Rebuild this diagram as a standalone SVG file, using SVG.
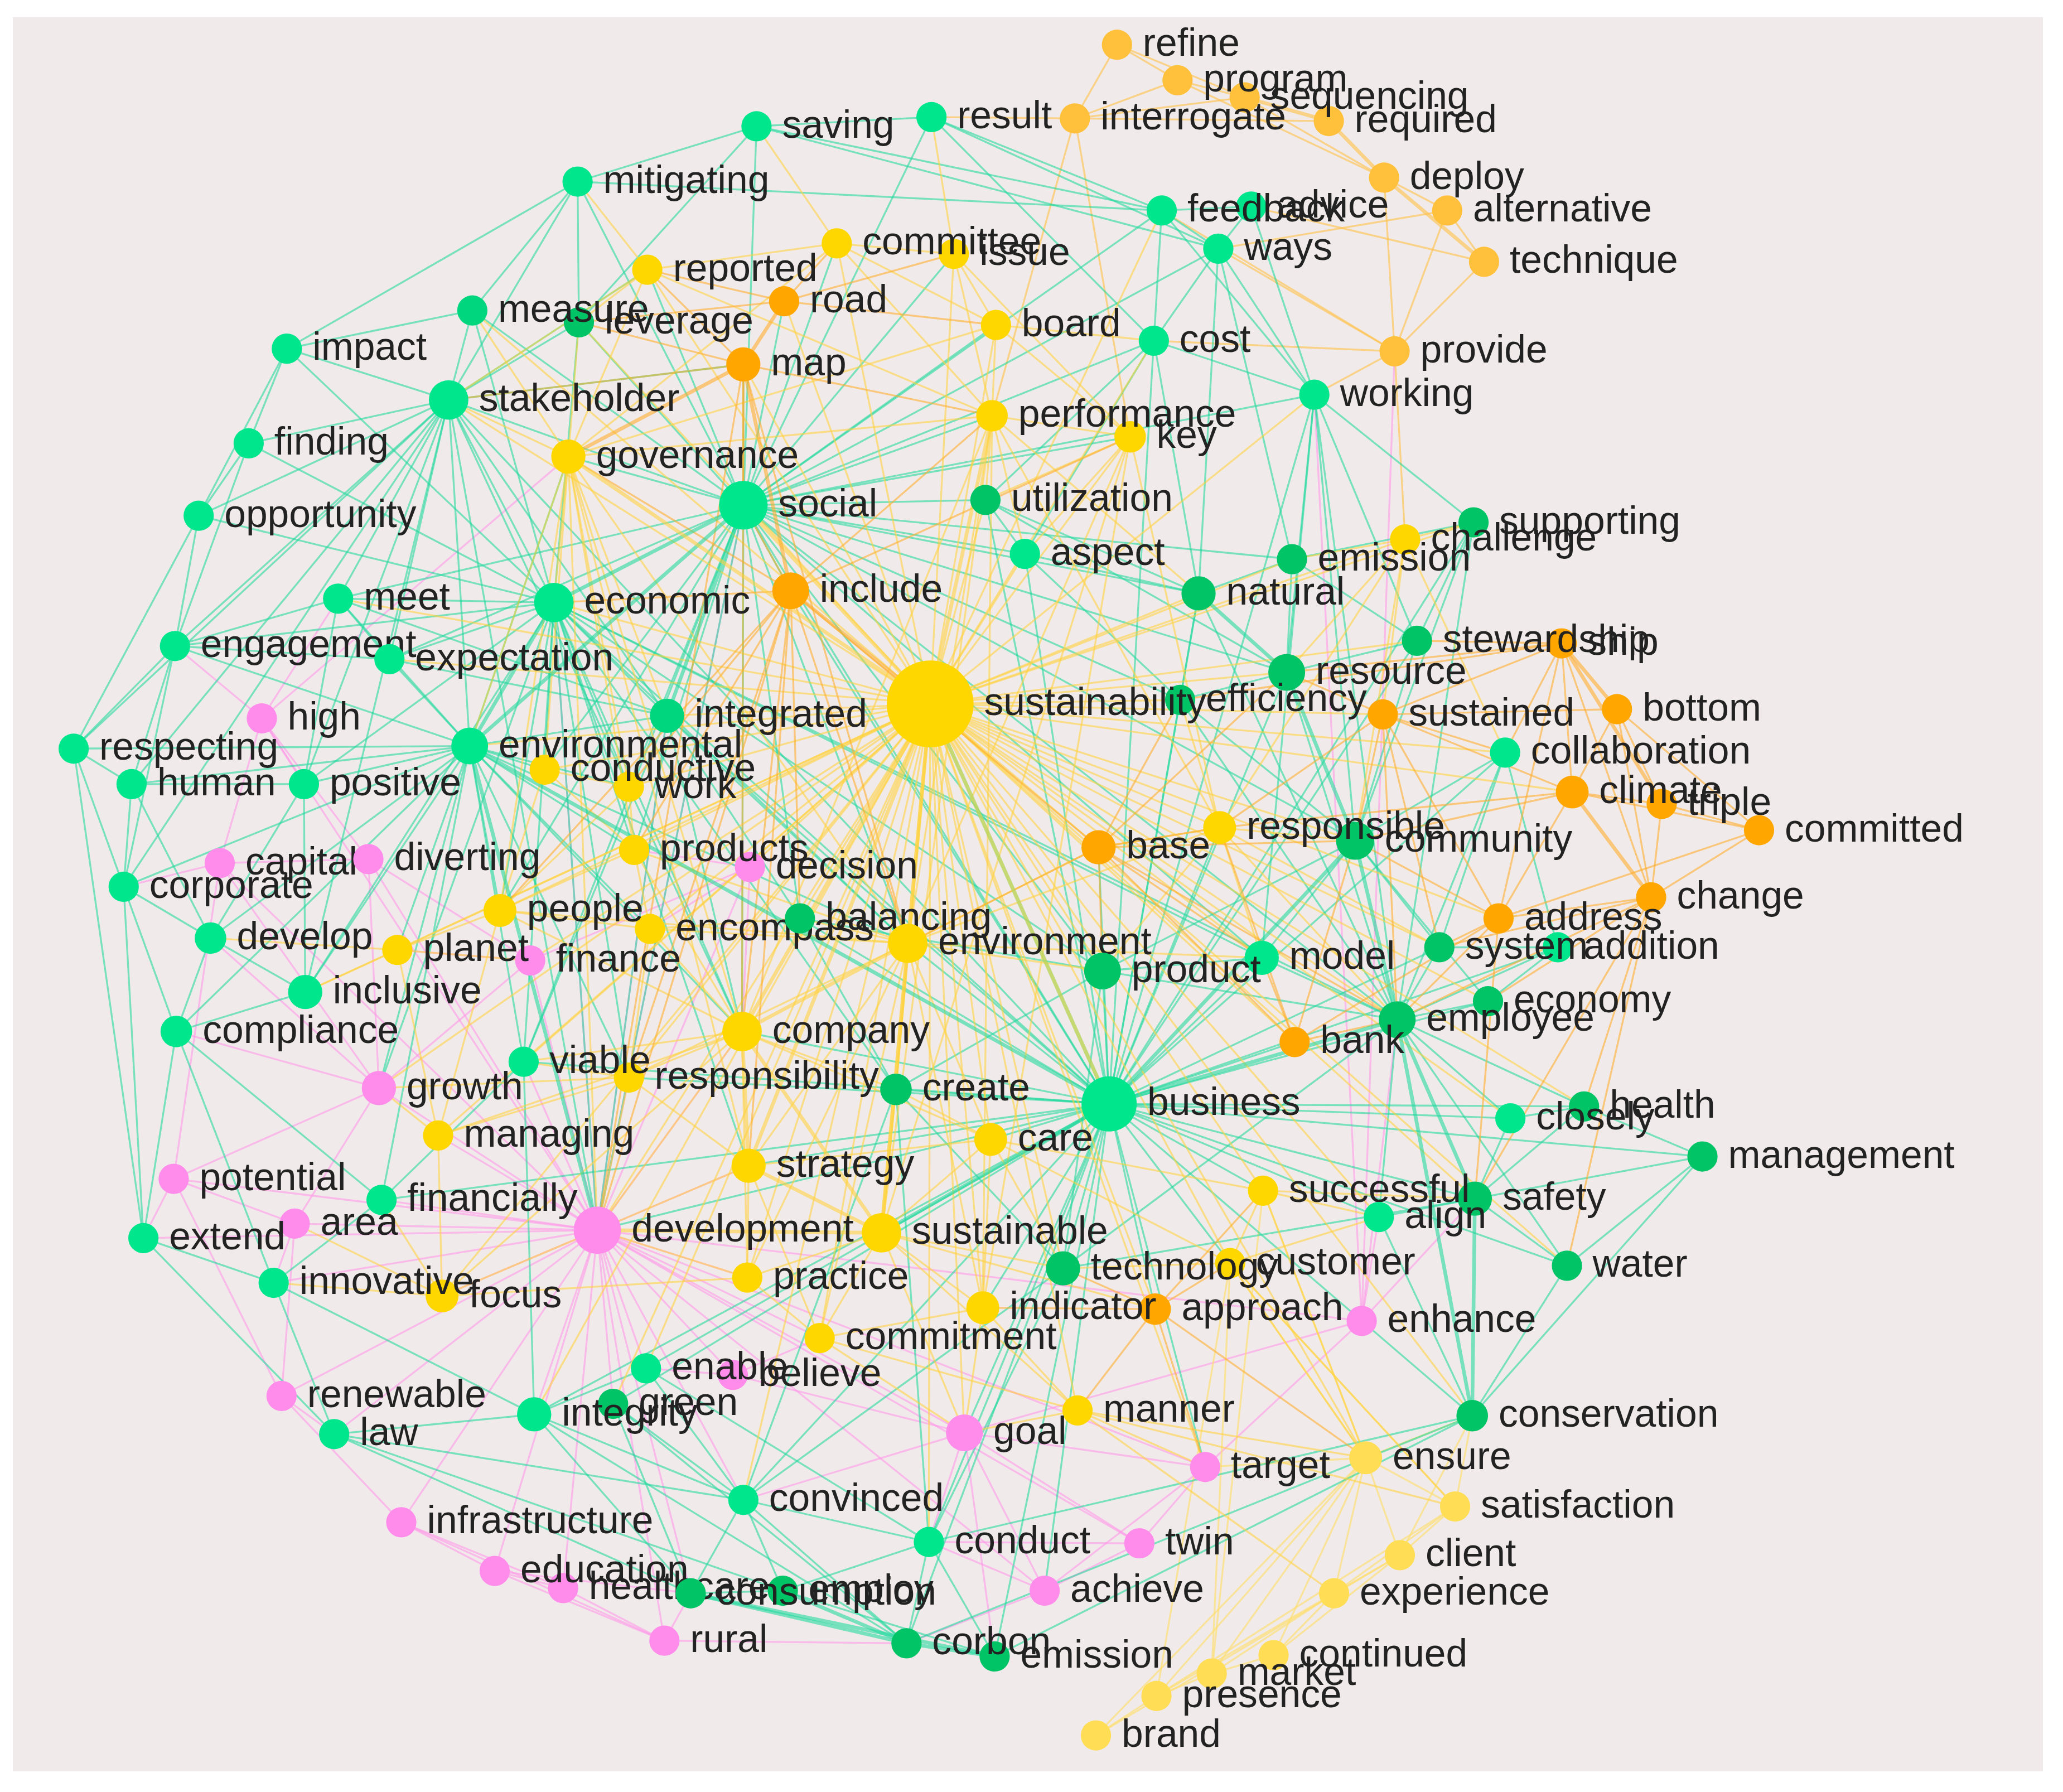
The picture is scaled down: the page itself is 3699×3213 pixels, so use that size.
<svg xmlns="http://www.w3.org/2000/svg" width="3699" height="3213" viewBox="0 0 3699 3213">
<style>
.e path{fill:none;stroke-width:1.4;stroke-linecap:round}
.w path{stroke-width:2.8}
.g path{stroke:#1FD99C;stroke-opacity:.58}
.y path{stroke:#FFD23C;stroke-opacity:.58}
.o path{stroke:#FFAC2A;stroke-opacity:.58}
.p path{stroke:#FF96E8;stroke-opacity:.58}
.ly path{stroke:#FFDE6A;stroke-opacity:.62}
.lo path{stroke:#FFC24A;stroke-opacity:.62}
.Y{fill:#FFD700}.LY{fill:#FFDD55}.O{fill:#FFA700}.LO{fill:#FFC13B}.SG{fill:#00E68C}.DG{fill:#00C466}.MG{fill:#00D67E}.P{fill:#FF8CEB}
text{font-family:"Liberation Sans",Arial,sans-serif;font-size:29.5px;fill:#222222}
</style>
<rect width="3699" height="3213" fill="#FFFFFF"/>
<rect x="23" y="31" width="3640" height="3145" fill="#F0EAEA"/>
<g transform="scale(2.359)">
<g id="connectors">
<g class="e p">
<path d="M454 935L288 827"/><path d="M454 935L224 930"/><path d="M454 935L132 896"/><path d="M454 935L403 730"/><path d="M454 935L167 656"/><path d="M454 935L280 653"/><path d="M454 935L199 546"/><path d="M454 935L570 659"/><path d="M454 935L557 1045"/><path d="M454 935L214 1061"/><path d="M454 935L305 1157"/><path d="M454 935L376 1194"/><path d="M454 935L428 1207"/><path d="M454 935L505 1247"/><path d="M454 935L733 1089"/><path d="M454 935L916 1115"/><path d="M454 935L866 1173"/><path d="M454 935L794 1209"/><path d="M454 935L1035 1004"/><path d="M454 935L406 1075"/><path d="M454 935L254 1090"/><path d="M454 935L491 1040"/><path d="M454 935L466 1067"/><path d="M454 935L208 975"/><path d="M454 935L290 912"/><path d="M454 935L398 807"/><path d="M454 935L109 941"/><path d="M454 935L565 1140"/><path d="M454 935L525 1211"/><path d="M454 935L336 985"/><path d="M454 935L333 863"/><path d="M454 935L564 784"/><path d="M454 935L569 886"/><path d="M454 935L478 819"/><path d="M454 935L568 971"/><path d="M454 935L623 1017"/><path d="M454 935L421 458"/><path d="M454 935L565 384"/><path d="M454 935L507 544"/>
<path d="M199 546L167 656"/><path d="M199 546L280 653"/><path d="M199 546L133 491"/><path d="M199 546L257 455"/><path d="M199 546L231 596"/><path d="M199 546L432 347"/><path d="M167 656L280 653"/><path d="M167 656L94 674"/><path d="M167 656L132 896"/><path d="M167 656L288 827"/><path d="M280 653L288 827"/><path d="M280 653L403 730"/><path d="M570 659L403 730"/><path d="M570 659L564 784"/><path d="M570 659L494 706"/><path d="M403 730L288 827"/><path d="M288 827L132 896"/><path d="M288 827L224 930"/><path d="M132 896L224 930"/><path d="M132 896L214 1061"/><path d="M132 896L109 941"/><path d="M224 930L214 1061"/><path d="M224 930L208 975"/><path d="M214 1061L305 1157"/><path d="M214 1061L254 1090"/><path d="M305 1157L376 1194"/><path d="M305 1157L428 1207"/><path d="M305 1157L505 1247"/><path d="M376 1194L428 1207"/><path d="M376 1194L505 1247"/><path d="M428 1207L505 1247"/><path d="M505 1247L525 1211"/><path d="M505 1247L689 1249"/><path d="M376 1194L525 1211"/><path d="M733 1089L916 1115"/><path d="M733 1089L866 1173"/><path d="M733 1089L794 1209"/><path d="M733 1089L1035 1004"/><path d="M916 1115L1035 1004"/><path d="M916 1115L866 1173"/><path d="M866 1173L794 1209"/><path d="M794 1209L916 1115"/><path d="M1035 1004L1048 925"/><path d="M1035 1004L1062 775"/><path d="M1035 1004L1121 911"/><path d="M557 1045L491 1040"/><path d="M557 1045L733 1089"/><path d="M557 1045L623 1017"/><path d="M733 1089L565 1140"/><path d="M733 1089L706 1172"/><path d="M866 1173L706 1172"/><path d="M794 1209L706 1172"/><path d="M794 1209L689 1249"/><path d="M1035 1004L1060 267"/><path d="M1035 1004L999 300"/><path d="M733 1089L756 1259"/><path d="M288 827L134 784"/><path d="M288 827L160 713"/><path d="M403 730L302 722"/><path d="M570 659L482 646"/>
</g>
<g class="e lo">
<path d="M849 34L895 61"/><path d="M849 34L817 90"/><path d="M849 34L946 74"/><path d="M895 61L946 74"/><path d="M895 61L817 90"/><path d="M817 90L946 74"/><path d="M817 90L1010 92"/><path d="M946 74L1052 135"/><path d="M895 61L1052 135"/><path d="M1052 135L1100 160"/><path d="M1100 160L1128 199"/><path d="M1100 160L1060 267"/><path d="M1128 199L1060 267"/><path d="M1052 135L1060 267"/><path d="M951 157L1128 199"/><path d="M1060 267L926 189"/><path d="M1060 267L877 259"/><path d="M817 90L859 332"/><path d="M817 90L754 316"/><path d="M1060 267L1068 410"/><path d="M1060 267L883 160"/><path d="M1060 267L999 300"/><path d="M1100 160L926 189"/><path d="M817 90L708 89"/>
</g>
<g class="e lo w">
<path d="M946 74L1010 92"/><path d="M1010 92L1052 135"/><path d="M1052 135L1128 199"/>
</g>
<g class="e ly">
<path d="M1038 1108L1106 1145"/><path d="M1038 1108L1064 1182"/><path d="M1038 1108L1014 1211"/><path d="M1038 1108L968 1258"/><path d="M1038 1108L921 1272"/><path d="M1038 1108L879 1289"/><path d="M1038 1108L833 1319"/><path d="M1038 1108L916 1115"/><path d="M1038 1108L1119 1076"/><path d="M1038 1108L935 960"/><path d="M1038 1108L960 905"/><path d="M1106 1145L1064 1182"/><path d="M1064 1182L1014 1211"/><path d="M1014 1211L968 1258"/><path d="M968 1258L921 1272"/><path d="M921 1272L879 1289"/><path d="M879 1289L833 1319"/><path d="M1014 1211L921 1272"/><path d="M1106 1145L1014 1211"/><path d="M1064 1182L968 1258"/><path d="M1014 1211L879 1289"/><path d="M1106 1145L935 960"/><path d="M1106 1145L879 1289"/><path d="M1064 1182L833 1319"/><path d="M935 960L879 1289"/><path d="M935 960L921 1272"/><path d="M960 905L921 1272"/><path d="M1106 1145L1119 1076"/><path d="M1064 1182L1119 1076"/>
</g>
<g class="e g">
<path d="M843 839L565 384"/><path d="M843 839L421 458"/><path d="M843 839L959 728"/><path d="M843 839L838 738"/><path d="M843 839L808 964"/><path d="M843 839L681 828"/><path d="M843 839L454 935"/><path d="M843 839L753 866"/><path d="M843 839L564 784"/><path d="M843 839L569 886"/><path d="M843 839L507 544"/><path d="M843 839L733 1089"/><path d="M843 839L565 1140"/><path d="M843 839L706 1172"/><path d="M843 839L491 1040"/><path d="M843 839L406 1075"/><path d="M843 839L398 807"/><path d="M843 839L1148 850"/><path d="M843 839L1121 911"/><path d="M843 839L1048 925"/><path d="M843 839L1191 962"/><path d="M843 839L1119 1076"/><path d="M843 839L978 511"/><path d="M843 839L911 451"/><path d="M843 839L897 532"/><path d="M843 839L1077 487"/><path d="M843 839L1120 397"/><path d="M843 839L999 300"/><path d="M843 839L877 259"/><path d="M843 839L1144 572"/><path d="M843 839L1184 720"/><path d="M843 839L1204 841"/><path d="M843 839L1294 879"/><path d="M843 839L1131 761"/><path d="M843 839L1094 720"/><path d="M843 839L984 792"/><path d="M843 839L927 629"/><path d="M843 839L960 905"/><path d="M843 839L935 960"/><path d="M843 839L878 995"/><path d="M843 839L747 994"/><path d="M843 839L689 1249"/><path d="M843 839L756 1259"/><path d="M843 839L466 1067"/><path d="M843 839L478 819"/><path d="M843 839L608 698"/><path d="M843 839L779 421"/><path d="M843 839L749 380"/><path d="M843 839L601 449"/><path d="M843 839L835 644"/><path d="M843 839L690 717"/><path d="M843 839L916 1115"/><path d="M843 839L794 1209"/><path d="M843 839L290 912"/><path d="M843 839L341 304"/>
<path d="M565 384L341 304"/><path d="M565 384L432 347"/><path d="M565 384L565 277"/><path d="M565 384L596 229"/><path d="M565 384L492 205"/><path d="M565 384L440 245"/><path d="M565 384L359 236"/><path d="M565 384L601 449"/><path d="M565 384L779 421"/><path d="M565 384L749 380"/><path d="M565 384L754 316"/><path d="M565 384L757 247"/><path d="M565 384L877 259"/><path d="M565 384L883 160"/><path d="M565 384L926 189"/><path d="M565 384L708 89"/><path d="M565 384L439 138"/><path d="M565 384L575 96"/><path d="M565 384L978 511"/><path d="M565 384L911 451"/><path d="M565 384L1030 639"/><path d="M565 384L454 935"/><path d="M565 384L564 784"/><path d="M565 384L690 717"/><path d="M565 384L959 728"/><path d="M565 384L1062 775"/><path d="M565 384L478 598"/><path d="M565 384L414 585"/><path d="M565 384L380 692"/><path d="M565 384L257 455"/><path d="M565 384L296 501"/><path d="M565 384L636 185"/><path d="M565 384L725 193"/><path d="M565 384L859 332"/><path d="M565 384L838 738"/><path d="M565 384L897 532"/><path d="M565 384L999 300"/><path d="M565 384L982 425"/><path d="M565 384L482 646"/><path d="M565 384L608 698"/><path d="M565 384L398 807"/>
<path d="M421 458L341 304"/><path d="M421 458L257 455"/><path d="M421 458L296 501"/><path d="M421 458L507 544"/><path d="M421 458L454 935"/><path d="M421 458L564 784"/><path d="M421 458L690 717"/><path d="M421 458L478 598"/><path d="M421 458L414 585"/><path d="M421 458L380 692"/><path d="M421 458L288 827"/><path d="M421 458L398 807"/><path d="M421 458L482 646"/><path d="M421 458L478 819"/><path d="M421 458L569 886"/><path d="M421 458L133 491"/><path d="M421 458L151 392"/><path d="M421 458L231 596"/><path d="M421 458L359 236"/><path d="M421 458L440 245"/><path d="M421 458L218 265"/><path d="M421 458L189 337"/><path d="M421 458L232 754"/><path d="M421 458L681 828"/><path d="M421 458L959 728"/><path d="M421 458L1062 775"/><path d="M421 458L838 738"/>
<path d="M357 567L341 304"/><path d="M357 567L257 455"/><path d="M357 567L296 501"/><path d="M357 567L133 491"/><path d="M357 567L100 596"/><path d="M357 567L231 596"/><path d="M357 567L56 569"/><path d="M357 567L507 544"/><path d="M357 567L414 585"/><path d="M357 567L478 598"/><path d="M357 567L380 692"/><path d="M357 567L302 722"/><path d="M357 567L160 713"/><path d="M357 567L232 754"/><path d="M357 567L134 784"/><path d="M357 567L398 807"/><path d="M357 567L288 827"/><path d="M357 567L290 912"/><path d="M357 567L564 784"/><path d="M357 567L690 717"/><path d="M357 567L478 819"/><path d="M357 567L482 646"/><path d="M357 567L494 706"/><path d="M357 567L94 674"/><path d="M357 567L432 347"/>
<path d="M341 304L218 265"/><path d="M341 304L189 337"/><path d="M341 304L151 392"/><path d="M341 304L133 491"/><path d="M341 304L257 455"/><path d="M341 304L359 236"/><path d="M341 304L440 245"/><path d="M341 304L439 138"/><path d="M341 304L296 501"/><path d="M341 304L231 596"/><path d="M341 304L56 569"/><path d="M341 304L507 544"/><path d="M341 304L564 784"/><path d="M341 304L232 754"/><path d="M341 304L100 596"/><path d="M341 304L94 674"/><path d="M341 304L492 205"/><path d="M341 304L565 277"/><path d="M341 304L454 935"/>
<path d="M507 544L454 935"/><path d="M507 544L564 784"/><path d="M507 544L690 717"/><path d="M507 544L398 807"/><path d="M507 544L608 698"/><path d="M507 544L296 501"/><path d="M507 544L257 455"/>
<path d="M56 569L100 596"/><path d="M56 569L94 674"/><path d="M56 569L133 491"/><path d="M56 569L151 392"/><path d="M100 596L94 674"/><path d="M94 674L160 713"/><path d="M94 674L134 784"/><path d="M94 674L109 941"/><path d="M134 784L109 941"/><path d="M134 784L232 754"/><path d="M160 713L232 754"/><path d="M160 713L134 784"/><path d="M133 491L151 392"/><path d="M151 392L189 337"/><path d="M189 337L218 265"/><path d="M218 265L439 138"/><path d="M439 138L575 96"/><path d="M575 96L708 89"/><path d="M133 491L257 455"/><path d="M133 491L94 674"/><path d="M133 491L100 596"/><path d="M109 941L208 975"/><path d="M208 975L254 1090"/><path d="M254 1090L406 1075"/><path d="M134 784L208 975"/><path d="M133 491L296 501"/><path d="M257 455L296 501"/><path d="M257 455L231 596"/><path d="M231 596L160 713"/><path d="M231 596L100 596"/><path d="M231 596L232 754"/><path d="M160 713L100 596"/><path d="M134 784L290 912"/><path d="M290 912L208 975"/><path d="M290 912L398 807"/><path d="M398 807L406 1075"/><path d="M208 975L406 1075"/><path d="M406 1075L491 1040"/><path d="M491 1040L565 1140"/><path d="M406 1075L565 1140"/><path d="M254 1090L565 1140"/><path d="M218 265L151 392"/><path d="M189 337L133 491"/><path d="M218 265L359 236"/><path d="M439 138L359 236"/><path d="M575 96L440 245"/><path d="M439 138L440 245"/><path d="M109 941L254 1090"/><path d="M56 569L109 941"/>
<path d="M565 1140L706 1172"/><path d="M565 1140L525 1211"/><path d="M565 1140L595 1209"/><path d="M565 1140L689 1249"/><path d="M706 1172L689 1249"/><path d="M706 1172L756 1259"/><path d="M706 1172L595 1209"/><path d="M595 1209L756 1259"/><path d="M525 1211L595 1209"/><path d="M466 1067L565 1140"/><path d="M466 1067L689 1249"/><path d="M406 1075L525 1211"/><path d="M254 1090L525 1211"/><path d="M466 1067L525 1211"/><path d="M491 1040L706 1172"/><path d="M565 1140L808 964"/><path d="M706 1172L808 964"/><path d="M706 1172L1119 1076"/><path d="M756 1259L1119 1076"/><path d="M689 1249L1119 1076"/><path d="M406 1075L689 1249"/><path d="M254 1090L595 1209"/>
<path d="M999 300L877 259"/><path d="M999 300L926 189"/><path d="M999 300L883 160"/><path d="M999 300L951 157"/><path d="M999 300L1120 397"/><path d="M999 300L1077 487"/><path d="M999 300L1030 639"/><path d="M999 300L1062 775"/><path d="M999 300L978 511"/><path d="M999 300L959 728"/><path d="M877 259L926 189"/><path d="M877 259L883 160"/><path d="M883 160L926 189"/><path d="M883 160L951 157"/><path d="M951 157L926 189"/><path d="M877 259L779 421"/><path d="M877 259L911 451"/><path d="M877 259L749 380"/><path d="M926 189L911 451"/><path d="M926 189L982 425"/><path d="M708 89L883 160"/><path d="M708 89L926 189"/><path d="M708 89L877 259"/><path d="M575 96L883 160"/><path d="M575 96L926 189"/><path d="M439 138L883 160"/><path d="M1120 397L1077 487"/><path d="M1120 397L982 425"/><path d="M1120 397L1030 639"/><path d="M1120 397L1062 775"/><path d="M1077 487L978 511"/><path d="M1077 487L982 425"/><path d="M1077 487L1030 639"/><path d="M982 425L911 451"/><path d="M982 425L978 511"/><path d="M911 451L897 532"/><path d="M978 511L897 532"/><path d="M897 532L1030 639"/><path d="M897 532L1062 775"/><path d="M911 451L1062 775"/><path d="M978 511L1062 775"/><path d="M1144 572L1094 720"/><path d="M1144 572L1030 639"/><path d="M1144 572L1184 720"/><path d="M1144 572L1062 775"/><path d="M1184 720L1062 775"/><path d="M1184 720L1131 761"/><path d="M1184 720L1094 720"/><path d="M1094 720L1062 775"/><path d="M1094 720L1030 639"/><path d="M1131 761L1062 775"/><path d="M1131 761L1030 639"/><path d="M959 728L1062 775"/><path d="M959 728L1030 639"/><path d="M959 728L838 738"/><path d="M838 738L1062 775"/><path d="M838 738L1030 639"/><path d="M838 738L808 964"/><path d="M838 738L681 828"/><path d="M1204 841L1121 911"/><path d="M1204 841L1294 879"/><path d="M1204 841L1148 850"/><path d="M1148 850L1121 911"/><path d="M1148 850L1062 775"/><path d="M1294 879L1191 962"/><path d="M1294 879L1119 1076"/><path d="M1294 879L1121 911"/><path d="M1121 911L1191 962"/><path d="M1191 962L1119 1076"/><path d="M1204 841L1062 775"/><path d="M1048 925L1062 775"/><path d="M1048 925L1121 911"/><path d="M1048 925L1119 1076"/><path d="M1191 962L1062 775"/><path d="M1062 775L808 964"/><path d="M808 964L681 828"/><path d="M808 964L1121 911"/><path d="M681 828L608 698"/><path d="M608 698L838 738"/><path d="M779 421L749 380"/><path d="M779 421L911 451"/><path d="M749 380L911 451"/><path d="M749 380L978 511"/><path d="M779 421L897 532"/><path d="M681 828L565 1140"/><path d="M681 828L706 1172"/>
</g>
<g class="e y">
<path d="M707 535L859 332"/><path d="M707 535L757 247"/><path d="M707 535L725 193"/><path d="M707 535L636 185"/><path d="M707 535L492 205"/><path d="M707 535L565 277"/><path d="M707 535L596 229"/><path d="M707 535L753 866"/><path d="M707 535L478 819"/><path d="M707 535L482 646"/><path d="M707 535L478 598"/><path d="M707 535L414 585"/><path d="M707 535L380 692"/><path d="M707 535L494 706"/><path d="M707 535L454 935"/><path d="M707 535L927 629"/><path d="M707 535L835 644"/><path d="M707 535L421 458"/><path d="M707 535L357 567"/><path d="M707 535L507 544"/><path d="M707 535L1030 639"/><path d="M707 535L978 511"/><path d="M707 535L911 451"/><path d="M707 535L779 421"/><path d="M707 535L749 380"/><path d="M707 535L1062 775"/><path d="M707 535L838 738"/><path d="M707 535L959 728"/><path d="M707 535L568 971"/><path d="M707 535L747 994"/><path d="M707 535L336 985"/><path d="M707 535L623 1017"/><path d="M707 535L935 960"/><path d="M707 535L960 905"/><path d="M707 535L878 995"/><path d="M707 535L819 1072"/><path d="M707 535L733 1089"/><path d="M707 535L808 964"/><path d="M707 535L681 828"/><path d="M707 535L608 698"/><path d="M707 535L341 304"/><path d="M707 535L1068 410"/><path d="M707 535L302 722"/><path d="M707 535L333 863"/><path d="M707 535L1038 1108"/><path d="M707 535L1121 911"/><path d="M707 535L1051 543"/><path d="M707 535L1195 602"/><path d="M707 535L1139 698"/><path d="M707 535L984 792"/><path d="M707 535L999 300"/><path d="M707 535L877 259"/><path d="M707 535L883 160"/><path d="M707 535L359 236"/><path d="M707 535L440 245"/><path d="M707 535L296 501"/><path d="M707 535L257 455"/><path d="M707 535L570 659"/><path d="M707 535L403 730"/><path d="M707 535L288 827"/><path d="M707 535L398 807"/><path d="M707 535L232 754"/><path d="M707 535L1077 487"/><path d="M707 535L1120 397"/><path d="M707 535L982 425"/><path d="M707 535L1144 572"/><path d="M707 535L1094 720"/><path d="M707 535L1131 761"/><path d="M707 535L1148 850"/><path d="M707 535L1048 925"/><path d="M707 535L1119 1076"/><path d="M707 535L916 1115"/><path d="M707 535L706 1172"/><path d="M707 535L565 1140"/><path d="M707 535L406 1075"/><path d="M707 535L491 1040"/><path d="M707 535L466 1067"/><path d="M707 535L897 532"/><path d="M707 535L1204 841"/><path d="M707 535L1191 962"/>
<path d="M432 347L341 304"/><path d="M432 347L421 458"/><path d="M432 347L492 205"/><path d="M432 347L636 185"/><path d="M432 347L757 247"/><path d="M432 347L507 544"/><path d="M432 347L357 567"/><path d="M432 347L564 784"/><path d="M432 347L690 717"/><path d="M432 347L569 886"/><path d="M432 347L482 646"/><path d="M432 347L478 598"/><path d="M432 347L414 585"/><path d="M432 347L380 692"/><path d="M432 347L454 935"/><path d="M432 347L440 245"/><path d="M432 347L359 236"/><path d="M432 347L754 316"/>
<path d="M754 316L859 332"/><path d="M754 316L757 247"/><path d="M754 316L725 193"/><path d="M754 316L636 185"/><path d="M754 316L749 380"/><path d="M754 316L779 421"/><path d="M754 316L690 717"/><path d="M754 316L564 784"/><path d="M754 316L670 937"/><path d="M754 316L747 994"/><path d="M754 316L927 629"/><path d="M754 316L911 451"/><path d="M754 316L492 205"/>
<path d="M859 332L757 247"/><path d="M859 332L725 193"/><path d="M859 332L749 380"/><path d="M859 332L779 421"/><path d="M859 332L927 629"/><path d="M859 332L690 717"/><path d="M859 332L747 994"/><path d="M859 332L670 937"/>
<path d="M757 247L725 193"/><path d="M757 247L636 185"/><path d="M757 247L877 259"/><path d="M725 193L636 185"/><path d="M725 193L708 89"/><path d="M636 185L492 205"/><path d="M636 185L575 96"/><path d="M492 205L440 245"/><path d="M492 205L341 304"/><path d="M492 205L439 138"/>
<path d="M1068 410L1120 397"/><path d="M1068 410L982 425"/><path d="M1068 410L927 629"/><path d="M1068 410L1030 639"/><path d="M1068 410L978 511"/><path d="M1068 410L1144 572"/><path d="M1068 410L1051 543"/>
<path d="M927 629L1030 639"/><path d="M927 629L835 644"/><path d="M927 629L959 728"/><path d="M927 629L690 717"/><path d="M927 629L1062 775"/><path d="M927 629L838 738"/><path d="M927 629L897 532"/><path d="M927 629L1094 720"/>
<path d="M690 717L569 886"/><path d="M690 717L753 866"/><path d="M690 717L478 819"/><path d="M690 717L494 706"/><path d="M690 717L482 646"/><path d="M690 717L608 698"/><path d="M690 717L380 692"/><path d="M690 717L568 971"/><path d="M690 717L623 1017"/><path d="M690 717L747 994"/><path d="M690 717L681 828"/><path d="M690 717L838 738"/><path d="M690 717L959 728"/><path d="M690 717L835 644"/>
<path d="M564 784L478 819"/><path d="M564 784L753 866"/><path d="M564 784L568 971"/><path d="M564 784L494 706"/><path d="M564 784L380 692"/><path d="M564 784L482 646"/><path d="M564 784L681 828"/><path d="M564 784L333 863"/><path d="M564 784L336 985"/><path d="M564 784L454 935"/><path d="M564 784L398 807"/>
<path d="M569 886L753 866"/><path d="M569 886L568 971"/><path d="M569 886L623 1017"/><path d="M569 886L478 819"/><path d="M569 886L454 935"/>
<path d="M670 937L753 866"/><path d="M670 937L568 971"/><path d="M670 937L623 1017"/><path d="M670 937L747 994"/><path d="M670 937L878 995"/><path d="M670 937L733 1089"/><path d="M670 937L819 1072"/><path d="M670 937L808 964"/><path d="M670 937L681 828"/>
<path d="M753 866L747 994"/><path d="M753 866L960 905"/><path d="M753 866L935 960"/><path d="M753 866L681 828"/><path d="M753 866L808 964"/><path d="M960 905L935 960"/><path d="M960 905L1038 1108"/><path d="M960 905L1048 925"/><path d="M960 905L1121 911"/><path d="M935 960L1038 1108"/><path d="M935 960L1106 1145"/><path d="M935 960L808 964"/><path d="M935 960L1048 925"/>
<path d="M747 994L623 1017"/><path d="M747 994L819 1072"/><path d="M747 994L733 1089"/><path d="M623 1017L733 1089"/><path d="M623 1017L819 1072"/><path d="M623 1017L568 971"/><path d="M568 971L336 985"/><path d="M568 971L454 935"/>
<path d="M336 985L333 863"/><path d="M336 985L454 935"/><path d="M336 985L290 912"/><path d="M336 985L208 975"/><path d="M336 985L224 930"/><path d="M333 863L380 692"/><path d="M333 863L288 827"/><path d="M333 863L302 722"/><path d="M302 722L380 692"/><path d="M302 722L160 713"/><path d="M302 722L403 730"/><path d="M302 722L232 754"/><path d="M380 692L494 706"/><path d="M380 692L482 646"/><path d="M380 692L478 598"/><path d="M494 706L482 646"/><path d="M494 706L608 698"/><path d="M494 706L478 819"/><path d="M478 598L414 585"/><path d="M478 598L482 646"/><path d="M414 585L482 646"/><path d="M414 585L380 692"/><path d="M478 819L398 807"/><path d="M478 819L288 827"/><path d="M478 819L454 935"/><path d="M478 819L333 863"/>
<path d="M819 1072L1038 1108"/><path d="M819 1072L733 1089"/><path d="M819 1072L916 1115"/><path d="M819 1072L1014 1211"/><path d="M819 1072L1106 1145"/>
</g>
<g class="e o">
<path d="M596 229L492 205"/><path d="M596 229L636 185"/><path d="M596 229L725 193"/><path d="M596 229L757 247"/><path d="M596 229L440 245"/>
<path d="M565 277L492 205"/><path d="M565 277L754 316"/><path d="M565 277L565 384"/><path d="M565 277L341 304"/><path d="M565 277L440 245"/><path d="M565 277L454 935"/><path d="M565 277L690 717"/><path d="M565 277L564 784"/>
<path d="M601 449L565 384"/><path d="M601 449L421 458"/><path d="M601 449L690 717"/><path d="M601 449L432 347"/><path d="M601 449L564 784"/><path d="M601 449L754 316"/><path d="M601 449L859 332"/><path d="M601 449L835 644"/><path d="M601 449L478 819"/><path d="M601 449L569 886"/><path d="M601 449L454 935"/><path d="M601 449L608 698"/><path d="M601 449L482 646"/><path d="M601 449L478 598"/><path d="M601 449L380 692"/>
<path d="M1187 489L1195 602"/><path d="M1187 489L1051 543"/><path d="M1187 489L978 511"/><path d="M1187 489L1077 487"/><path d="M1187 489L1144 572"/><path d="M1187 489L1255 682"/><path d="M1187 489L1139 698"/><path d="M1187 489L897 532"/>
<path d="M1229 539L1263 611"/><path d="M1229 539L1195 602"/><path d="M1229 539L1051 543"/><path d="M1229 539L1255 682"/><path d="M1229 539L1337 631"/>
<path d="M1195 602L1263 611"/><path d="M1195 602L1139 698"/><path d="M1195 602L1337 631"/><path d="M1195 602L927 629"/><path d="M1195 602L1030 639"/><path d="M1263 611L1337 631"/><path d="M1263 611L1255 682"/>
<path d="M1255 682L1337 631"/><path d="M1255 682L1139 698"/><path d="M1255 682L1094 720"/><path d="M1255 682L1131 761"/><path d="M1255 682L1062 775"/><path d="M1255 682L1204 841"/><path d="M1255 682L1121 911"/><path d="M1255 682L1191 962"/>
<path d="M1139 698L1337 631"/><path d="M1139 698L1062 775"/><path d="M1139 698L1094 720"/><path d="M1139 698L1030 639"/><path d="M1139 698L1121 911"/>
<path d="M1051 543L1195 602"/><path d="M1051 543L1144 572"/><path d="M1051 543L1139 698"/><path d="M1051 543L1030 639"/><path d="M1051 543L978 511"/><path d="M1051 543L927 629"/><path d="M1051 543L1062 775"/><path d="M1051 543L1094 720"/>
<path d="M835 644L927 629"/><path d="M835 644L959 728"/><path d="M835 644L1030 639"/><path d="M835 644L838 738"/><path d="M835 644L1062 775"/><path d="M835 644L984 792"/><path d="M835 644L690 717"/><path d="M835 644L978 511"/><path d="M835 644L897 532"/>
<path d="M984 792L1062 775"/><path d="M984 792L1030 639"/><path d="M984 792L959 728"/><path d="M984 792L1139 698"/><path d="M984 792L927 629"/>
<path d="M878 995L747 994"/><path d="M878 995L808 964"/><path d="M878 995L935 960"/><path d="M878 995L960 905"/><path d="M878 995L1038 1108"/><path d="M878 995L819 1072"/><path d="M878 995L916 1115"/>
</g>
<g class="e g w">
<path d="M843 839L707 535"/><path d="M843 839L357 567"/><path d="M843 839L1062 775"/><path d="M843 839L1030 639"/><path d="M843 839L670 937"/><path d="M565 384L421 458"/><path d="M565 384L357 567"/><path d="M565 384L507 544"/><path d="M421 458L357 567"/><path d="M357 567L454 935"/><path d="M911 451L978 511"/><path d="M978 511L1030 639"/><path d="M1119 1076L1121 911"/><path d="M1119 1076L1062 775"/><path d="M1121 911L1062 775"/><path d="M1062 775L1030 639"/><path d="M689 1249L756 1259"/><path d="M689 1249L525 1211"/><path d="M689 1249L595 1209"/><path d="M756 1259L525 1211"/>
</g>
<g class="e y w">
<path d="M707 535L565 384"/><path d="M707 535L690 717"/><path d="M707 535L564 784"/><path d="M707 535L670 937"/><path d="M707 535L432 347"/><path d="M707 535L754 316"/><path d="M707 535L569 886"/><path d="M707 535L843 839"/><path d="M690 717L564 784"/><path d="M690 717L670 937"/><path d="M564 784L670 937"/><path d="M564 784L569 886"/><path d="M569 886L670 937"/><path d="M670 937L454 935"/>
</g>
<g class="e o w">
<path d="M596 229L565 277"/><path d="M565 277L432 347"/><path d="M565 277L601 449"/><path d="M707 535L601 449"/><path d="M1187 489L1229 539"/><path d="M1187 489L1263 611"/><path d="M1195 602L1255 682"/>
</g>
</g>
<g id="nodes">
<g id="n-required"><circle class="LO" cx="1010" cy="92" r="11.5"/><text x="1029.5" y="100.5">required</text></g>
<g id="n-sequencing"><circle class="LO" cx="946" cy="74" r="11.5"/><text x="965.5" y="82.5">sequencing</text></g>
<g id="n-refine"><circle class="LO" cx="849" cy="34" r="11.5"/><text x="868.5" y="42.5">refine</text></g>
<g id="n-program"><circle class="LO" cx="895" cy="61" r="11.5"/><text x="914.5" y="69.5">program</text></g>
<g id="n-interrogate"><circle class="LO" cx="817" cy="90" r="11.5"/><text x="836.5" y="98.5">interrogate</text></g>
<g id="n-deploy"><circle class="LO" cx="1052" cy="135" r="11.5"/><text x="1071.5" y="143.5">deploy</text></g>
<g id="n-alternative"><circle class="LO" cx="1100" cy="160" r="11.5"/><text x="1119.5" y="168.5">alternative</text></g>
<g id="n-technique"><circle class="LO" cx="1128" cy="199" r="11.5"/><text x="1147.5" y="207.5">technique</text></g>
<g id="n-provide"><circle class="LO" cx="1060" cy="267" r="11.5"/><text x="1079.5" y="275.5">provide</text></g>
<g id="n-advice"><circle class="SG" cx="951" cy="157" r="11.5"/><text x="970.5" y="165.5">advice</text></g>
<g id="n-feedback"><circle class="SG" cx="883" cy="160" r="11.5"/><text x="902.5" y="168.5">feedback</text></g>
<g id="n-ways"><circle class="SG" cx="926" cy="189" r="11.5"/><text x="945.5" y="197.5">ways</text></g>
<g id="n-cost"><circle class="SG" cx="877" cy="259" r="11.5"/><text x="896.5" y="267.5">cost</text></g>
<g id="n-working"><circle class="SG" cx="999" cy="300" r="11.5"/><text x="1018.5" y="308.5">working</text></g>
<g id="n-result"><circle class="SG" cx="708" cy="89" r="11.5"/><text x="727.5" y="97.5">result</text></g>
<g id="n-saving"><circle class="SG" cx="575" cy="96" r="11.5"/><text x="594.5" y="104.5">saving</text></g>
<g id="n-mitigating"><circle class="SG" cx="439" cy="138" r="11.5"/><text x="458.5" y="146.5">mitigating</text></g>
<g id="n-issue"><circle class="Y" cx="725" cy="193" r="11.5"/><text x="744.5" y="201.5">issue</text></g>
<g id="n-committee"><circle class="Y" cx="636" cy="185" r="11.5"/><text x="655.5" y="193.5">committee</text></g>
<g id="n-reported"><circle class="Y" cx="492" cy="205" r="11.5"/><text x="511.5" y="213.5">reported</text></g>
<g id="n-road"><circle class="O" cx="596" cy="229" r="11.5"/><text x="615.5" y="237.5">road</text></g>
<g id="n-leverage"><circle class="DG" cx="440" cy="245" r="11.5"/><text x="459.5" y="253.5">leverage</text></g>
<g id="n-measure"><circle class="MG" cx="359" cy="236" r="11.5"/><text x="378.5" y="244.5">measure</text></g>
<g id="n-board"><circle class="Y" cx="757" cy="247" r="11.5"/><text x="776.5" y="255.5">board</text></g>
<g id="n-map"><circle class="O" cx="565" cy="277" r="13"/><text x="586" y="285.5">map</text></g>
<g id="n-impact"><circle class="SG" cx="218" cy="265" r="11.5"/><text x="237.5" y="273.5">impact</text></g>
<g id="n-key"><circle class="Y" cx="859" cy="332" r="12"/><text x="879" y="340.5">key</text></g>
<g id="n-performance"><circle class="Y" cx="754" cy="316" r="12"/><text x="774" y="324.5">performance</text></g>
<g id="n-stakeholder"><circle class="SG" cx="341" cy="304" r="15"/><text x="364" y="312.5">stakeholder</text></g>
<g id="n-finding"><circle class="SG" cx="189" cy="337" r="11.5"/><text x="208.5" y="345.5">finding</text></g>
<g id="n-governance"><circle class="Y" cx="432" cy="347" r="13"/><text x="453" y="355.5">governance</text></g>
<g id="n-opportunity"><circle class="SG" cx="151" cy="392" r="11.5"/><text x="170.5" y="400.5">opportunity</text></g>
<g id="n-social"><circle class="SG" cx="565" cy="384" r="18.5"/><text x="591.5" y="392.5">social</text></g>
<g id="n-utilization"><circle class="DG" cx="749" cy="380" r="11.5"/><text x="768.5" y="388.5">utilization</text></g>
<g id="n-supporting"><circle class="DG" cx="1120" cy="397" r="11.5"/><text x="1139.5" y="405.5">supporting</text></g>
<g id="n-challenge"><circle class="Y" cx="1068" cy="410" r="11.5"/><text x="1087.5" y="418.5">challenge</text></g>
<g id="n-emission"><circle class="DG" cx="982" cy="425" r="11.5"/><text x="1001.5" y="433.5">emission</text></g>
<g id="n-aspect"><circle class="SG" cx="779" cy="421" r="11.5"/><text x="798.5" y="429.5">aspect</text></g>
<g id="n-include"><circle class="O" cx="601" cy="449" r="14"/><text x="623" y="457.5">include</text></g>
<g id="n-natural"><circle class="DG" cx="911" cy="451" r="13"/><text x="932" y="459.5">natural</text></g>
<g id="n-meet"><circle class="SG" cx="257" cy="455" r="11.5"/><text x="276.5" y="463.5">meet</text></g>
<g id="n-economic"><circle class="SG" cx="421" cy="458" r="15"/><text x="444" y="466.5">economic</text></g>
<g id="n-engagement"><circle class="SG" cx="133" cy="491" r="11.5"/><text x="152.5" y="499.5">engagement</text></g>
<g id="n-expectation"><circle class="SG" cx="296" cy="501" r="11.5"/><text x="315.5" y="509.5">expectation</text></g>
<g id="n-ship"><circle class="O" cx="1187" cy="489" r="11.5"/><text x="1206.5" y="497.5">ship</text></g>
<g id="n-stewardship"><circle class="DG" cx="1077" cy="487" r="11.5"/><text x="1096.5" y="495.5">stewardship</text></g>
<g id="n-resource"><circle class="DG" cx="978" cy="511" r="14"/><text x="1000" y="519.5">resource</text></g>
<g id="n-efficiency"><circle class="DG" cx="897" cy="532" r="11.5"/><text x="916.5" y="540.5">efficiency</text></g>
<g id="n-sustainability"><circle class="Y" cx="707" cy="535" r="33"/><text x="748" y="543.5">sustainability</text></g>
<g id="n-sustained"><circle class="O" cx="1051" cy="543" r="11.5"/><text x="1070.5" y="551.5">sustained</text></g>
<g id="n-bottom"><circle class="O" cx="1229" cy="539" r="11.5"/><text x="1248.5" y="547.5">bottom</text></g>
<g id="n-integrated"><circle class="MG" cx="507" cy="544" r="13"/><text x="528" y="552.5">integrated</text></g>
<g id="n-high"><circle class="P" cx="199" cy="546" r="11.5"/><text x="218.5" y="554.5">high</text></g>
<g id="n-respecting"><circle class="SG" cx="56" cy="569" r="11.5"/><text x="75.5" y="577.5">respecting</text></g>
<g id="n-work"><circle class="Y" cx="478" cy="598" r="11.5"/><text x="497.5" y="606.5">work</text></g>
<g id="n-conductive"><circle class="Y" cx="414" cy="585" r="11.5"/><text x="433.5" y="593.5">conductive</text></g>
<g id="n-environmental"><circle class="SG" cx="357" cy="567" r="14"/><text x="379" y="575.5">environmental</text></g>
<g id="n-collaboration"><circle class="SG" cx="1144" cy="572" r="11.5"/><text x="1163.5" y="580.5">collaboration</text></g>
<g id="n-human"><circle class="SG" cx="100" cy="596" r="11.5"/><text x="119.5" y="604.5">human</text></g>
<g id="n-positive"><circle class="SG" cx="231" cy="596" r="11.5"/><text x="250.5" y="604.5">positive</text></g>
<g id="n-triple"><circle class="O" cx="1263" cy="611" r="11.5"/><text x="1282.5" y="619.5">triple</text></g>
<g id="n-climate"><circle class="O" cx="1195" cy="602" r="12.5"/><text x="1215.5" y="610.5">climate</text></g>
<g id="n-committed"><circle class="O" cx="1337" cy="631" r="11.5"/><text x="1356.5" y="639.5">committed</text></g>
<g id="n-community"><circle class="DG" cx="1030" cy="639" r="14.5"/><text x="1052.5" y="647.5">community</text></g>
<g id="n-responsible"><circle class="Y" cx="927" cy="629" r="12.5"/><text x="947.5" y="637.5">responsible</text></g>
<g id="n-base"><circle class="O" cx="835" cy="644" r="13"/><text x="856" y="652.5">base</text></g>
<g id="n-decision"><circle class="P" cx="570" cy="659" r="11.5"/><text x="589.5" y="667.5">decision</text></g>
<g id="n-products"><circle class="Y" cx="482" cy="646" r="11.5"/><text x="501.5" y="654.5">products</text></g>
<g id="n-capital"><circle class="P" cx="167" cy="656" r="11.5"/><text x="186.5" y="664.5">capital</text></g>
<g id="n-diverting"><circle class="P" cx="280" cy="653" r="11.5"/><text x="299.5" y="661.5">diverting</text></g>
<g id="n-corporate"><circle class="SG" cx="94" cy="674" r="11.5"/><text x="113.5" y="682.5">corporate</text></g>
<g id="n-change"><circle class="O" cx="1255" cy="682" r="11.5"/><text x="1274.5" y="690.5">change</text></g>
<g id="n-address"><circle class="O" cx="1139" cy="698" r="11.5"/><text x="1158.5" y="706.5">address</text></g>
<g id="n-encompass"><circle class="Y" cx="494" cy="706" r="11.5"/><text x="513.5" y="714.5">encompass</text></g>
<g id="n-people"><circle class="Y" cx="380" cy="692" r="12.5"/><text x="400.5" y="700.5">people</text></g>
<g id="n-balancing"><circle class="DG" cx="608" cy="698" r="11.5"/><text x="627.5" y="706.5">balancing</text></g>
<g id="n-environment"><circle class="Y" cx="690" cy="717" r="15"/><text x="713" y="725.5">environment</text></g>
<g id="n-develop"><circle class="SG" cx="160" cy="713" r="12"/><text x="180" y="721.5">develop</text></g>
<g id="n-finance"><circle class="P" cx="403" cy="730" r="11.5"/><text x="422.5" y="738.5">finance</text></g>
<g id="n-planet"><circle class="Y" cx="302" cy="722" r="11.5"/><text x="321.5" y="730.5">planet</text></g>
<g id="n-model"><circle class="SG" cx="959" cy="728" r="13"/><text x="980" y="736.5">model</text></g>
<g id="n-addition"><circle class="SG" cx="1184" cy="720" r="11.5"/><text x="1203.5" y="728.5">addition</text></g>
<g id="n-system"><circle class="DG" cx="1094" cy="720" r="11.5"/><text x="1113.5" y="728.5">system</text></g>
<g id="n-product"><circle class="DG" cx="838" cy="738" r="14"/><text x="860" y="746.5">product</text></g>
<g id="n-inclusive"><circle class="SG" cx="232" cy="754" r="13"/><text x="253" y="762.5">inclusive</text></g>
<g id="n-economy"><circle class="DG" cx="1131" cy="761" r="11.5"/><text x="1150.5" y="769.5">economy</text></g>
<g id="n-employee"><circle class="DG" cx="1062" cy="775" r="14"/><text x="1084" y="783.5">employee</text></g>
<g id="n-compliance"><circle class="SG" cx="134" cy="784" r="12"/><text x="154" y="792.5">compliance</text></g>
<g id="n-company"><circle class="Y" cx="564" cy="784" r="15"/><text x="587" y="792.5">company</text></g>
<g id="n-bank"><circle class="O" cx="984" cy="792" r="11.5"/><text x="1003.5" y="800.5">bank</text></g>
<g id="n-responsibility"><circle class="Y" cx="478" cy="819" r="11.5"/><text x="497.5" y="827.5">responsibility</text></g>
<g id="n-viable"><circle class="SG" cx="398" cy="807" r="11.5"/><text x="417.5" y="815.5">viable</text></g>
<g id="n-growth"><circle class="P" cx="288" cy="827" r="13"/><text x="309" y="835.5">growth</text></g>
<g id="n-create"><circle class="DG" cx="681" cy="828" r="12"/><text x="701" y="836.5">create</text></g>
<g id="n-managing"><circle class="Y" cx="333" cy="863" r="11.5"/><text x="352.5" y="871.5">managing</text></g>
<g id="n-care"><circle class="Y" cx="753" cy="866" r="12.5"/><text x="773.5" y="874.5">care</text></g>
<g id="n-health"><circle class="DG" cx="1204" cy="841" r="11.5"/><text x="1223.5" y="849.5">health</text></g>
<g id="n-closely"><circle class="SG" cx="1148" cy="850" r="11.5"/><text x="1167.5" y="858.5">closely</text></g>
<g id="n-business"><circle class="SG" cx="843" cy="839" r="21"/><text x="872" y="847.5">business</text></g>
<g id="n-management"><circle class="DG" cx="1294" cy="879" r="11.5"/><text x="1313.5" y="887.5">management</text></g>
<g id="n-strategy"><circle class="Y" cx="569" cy="886" r="13"/><text x="590" y="894.5">strategy</text></g>
<g id="n-potential"><circle class="P" cx="132" cy="896" r="11.5"/><text x="151.5" y="904.5">potential</text></g>
<g id="n-safety"><circle class="DG" cx="1121" cy="911" r="13"/><text x="1142" y="919.5">safety</text></g>
<g id="n-successful"><circle class="Y" cx="960" cy="905" r="11.5"/><text x="979.5" y="913.5">successful</text></g>
<g id="n-financially"><circle class="SG" cx="290" cy="912" r="11.5"/><text x="309.5" y="920.5">financially</text></g>
<g id="n-align"><circle class="SG" cx="1048" cy="925" r="11.5"/><text x="1067.5" y="933.5">align</text></g>
<g id="n-area"><circle class="P" cx="224" cy="930" r="11.5"/><text x="243.5" y="938.5">area</text></g>
<g id="n-development"><circle class="P" cx="454" cy="935" r="18"/><text x="480" y="943.5">development</text></g>
<g id="n-sustainable"><circle class="Y" cx="670" cy="937" r="15"/><text x="693" y="945.5">sustainable</text></g>
<g id="n-extend"><circle class="SG" cx="109" cy="941" r="11.5"/><text x="128.5" y="949.5">extend</text></g>
<g id="n-customer"><circle class="Y" cx="935" cy="960" r="11.5"/><text x="954.5" y="968.5">customer</text></g>
<g id="n-technology"><circle class="DG" cx="808" cy="964" r="13"/><text x="829" y="972.5">technology</text></g>
<g id="n-water"><circle class="DG" cx="1191" cy="962" r="11.5"/><text x="1210.5" y="970.5">water</text></g>
<g id="n-focus"><circle class="Y" cx="336" cy="985" r="12.5"/><text x="356.5" y="993.5">focus</text></g>
<g id="n-innovative"><circle class="SG" cx="208" cy="975" r="11.5"/><text x="227.5" y="983.5">innovative</text></g>
<g id="n-practice"><circle class="Y" cx="568" cy="971" r="11.5"/><text x="587.5" y="979.5">practice</text></g>
<g id="n-approach"><circle class="O" cx="878" cy="995" r="12"/><text x="898" y="1003.5">approach</text></g>
<g id="n-indicator"><circle class="Y" cx="747" cy="994" r="12.5"/><text x="767.5" y="1002.5">indicator</text></g>
<g id="n-enhance"><circle class="P" cx="1035" cy="1004" r="11.5"/><text x="1054.5" y="1012.5">enhance</text></g>
<g id="n-commitment"><circle class="Y" cx="623" cy="1017" r="11.5"/><text x="642.5" y="1025.5">commitment</text></g>
<g id="n-believe"><circle class="P" cx="557" cy="1045" r="11.5"/><text x="576.5" y="1053.5">believe</text></g>
<g id="n-enable"><circle class="SG" cx="491" cy="1040" r="11.5"/><text x="510.5" y="1048.5">enable</text></g>
<g id="n-renewable"><circle class="P" cx="214" cy="1061" r="11.5"/><text x="233.5" y="1069.5">renewable</text></g>
<g id="n-green"><circle class="DG" cx="466" cy="1067" r="11.5"/><text x="485.5" y="1075.5">green</text></g>
<g id="n-integrity"><circle class="SG" cx="406" cy="1075" r="13"/><text x="427" y="1083.5">integrity</text></g>
<g id="n-manner"><circle class="Y" cx="819" cy="1072" r="11.5"/><text x="838.5" y="1080.5">manner</text></g>
<g id="n-conservation"><circle class="DG" cx="1119" cy="1076" r="12"/><text x="1139" y="1084.5">conservation</text></g>
<g id="n-law"><circle class="SG" cx="254" cy="1090" r="11.5"/><text x="273.5" y="1098.5">law</text></g>
<g id="n-goal"><circle class="P" cx="733" cy="1089" r="14"/><text x="755" y="1097.5">goal</text></g>
<g id="n-target"><circle class="P" cx="916" cy="1115" r="11.5"/><text x="935.5" y="1123.5">target</text></g>
<g id="n-ensure"><circle class="LY" cx="1038" cy="1108" r="12.5"/><text x="1058.5" y="1116.5">ensure</text></g>
<g id="n-convinced"><circle class="SG" cx="565" cy="1140" r="11.5"/><text x="584.5" y="1148.5">convinced</text></g>
<g id="n-satisfaction"><circle class="LY" cx="1106" cy="1145" r="11.5"/><text x="1125.5" y="1153.5">satisfaction</text></g>
<g id="n-infrastructure"><circle class="P" cx="305" cy="1157" r="11.5"/><text x="324.5" y="1165.5">infrastructure</text></g>
<g id="n-conduct"><circle class="SG" cx="706" cy="1172" r="11.5"/><text x="725.5" y="1180.5">conduct</text></g>
<g id="n-twin"><circle class="P" cx="866" cy="1173" r="11.5"/><text x="885.5" y="1181.5">twin</text></g>
<g id="n-client"><circle class="LY" cx="1064" cy="1182" r="11.5"/><text x="1083.5" y="1190.5">client</text></g>
<g id="n-healthcare"><circle class="P" cx="428" cy="1207" r="11.5"/><text x="447.5" y="1215.5">healthcare</text></g>
<g id="n-education"><circle class="P" cx="376" cy="1194" r="11.5"/><text x="395.5" y="1202.5">education</text></g>
<g id="n-employ"><circle class="DG" cx="595" cy="1209" r="11.5"/><text x="614.5" y="1217.5">employ</text></g>
<g id="n-consumption"><circle class="DG" cx="525" cy="1211" r="11.5"/><text x="544.5" y="1219.5">consumption</text></g>
<g id="n-achieve"><circle class="P" cx="794" cy="1209" r="11.5"/><text x="813.5" y="1217.5">achieve</text></g>
<g id="n-experience"><circle class="LY" cx="1014" cy="1211" r="11.5"/><text x="1033.5" y="1219.5">experience</text></g>
<g id="n-rural"><circle class="P" cx="505" cy="1247" r="11.5"/><text x="524.5" y="1255.5">rural</text></g>
<g id="n-emission-2"><circle class="DG" cx="756" cy="1259" r="11.5"/><text x="775.5" y="1267.5">emission</text></g>
<g id="n-corbon"><circle class="DG" cx="689" cy="1249" r="11.5"/><text x="708.5" y="1257.5">corbon</text></g>
<g id="n-continued"><circle class="LY" cx="968" cy="1258" r="11.5"/><text x="987.5" y="1266.5">continued</text></g>
<g id="n-market"><circle class="LY" cx="921" cy="1272" r="11.5"/><text x="940.5" y="1280.5">market</text></g>
<g id="n-presence"><circle class="LY" cx="879" cy="1289" r="11.5"/><text x="898.5" y="1297.5">presence</text></g>
<g id="n-brand"><circle class="LY" cx="833" cy="1319" r="11.5"/><text x="852.5" y="1327.5">brand</text></g>
</g>
</g>
</svg>
